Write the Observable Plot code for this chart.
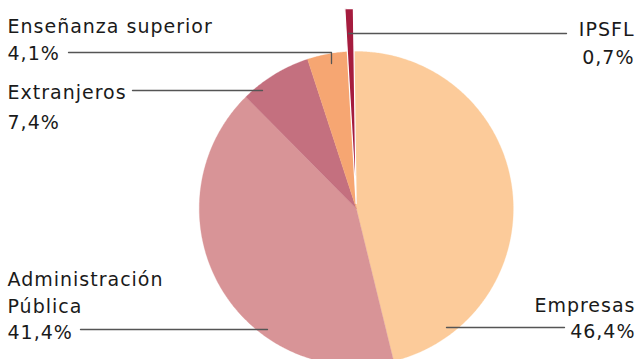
<!DOCTYPE html>
<html><head><meta charset="utf-8">
<script src="https://cdn.jsdelivr.net/npm/d3@7"></script>
<script src="https://cdn.jsdelivr.net/npm/@observablehq/plot@0.6"></script>
<style>html,body{margin:0;padding:0;background:#fff} svg{display:block}</style>
</head><body><div id="chart"></div>
<script>
// ---- data ----
const categories = ["Empresas", "Administración Pública", "Extranjeros", "Enseñanza superior", "IPSFL"];
const shares = [46.4, 41.4, 7.4, 4.1, 0.7];
const shareLabels = ["46,4%", "41,4%", "7,4%", "4,1%", "0,7%"];
const colors = ["#FCCB9A", "#D89497", "#C4707F", "#F6A672", "#A51C3E"];

// ---- layout ----
const W = 639, H = 359, CX = 355.8, CY = 208, R = 157, ROT = -0.8;
const explodeCat = "IPSFL", explodeDist = 5, explodeR = 195;
const FONT = "DejaVu Sans";

const total = d3.sum(shares);
let acc = 0;
const pts = [];
categories.forEach((c, i) => {
  const a0 = acc / total * 360 + ROT; acc += shares[i];
  const a1 = acc / total * 360 + ROT;
  const ex = c === explodeCat;
  const dist = ex ? explodeDist : 0, r = ex ? explodeR : R;
  const mid = (a0 + a1) / 2 * Math.PI / 180;
  const ox = CX + dist * Math.sin(mid), oy = CY - dist * Math.cos(mid);
  pts.push({c, x: ox, y: oy});
  const n = Math.max(4, Math.ceil((a1 - a0) / 0.5));
  for (let k = 0; k <= n; k++) {
    const a = (a0 + (a1 - a0) * k / n) * Math.PI / 180;
    pts.push({c, x: ox + r * Math.sin(a), y: oy - r * Math.cos(a)});
  }
});

// annotation layout (pixels)
const leaders = [
  {id: "Enseñanza", pts: [[68, 52], [331, 52], [331, 63]]},
  {id: "Extranjeros", pts: [[132, 90], [262, 90]]},
  {id: "IPSFL", pts: [[348, 33], [566, 33]]},
  {id: "Admin", pts: [[80, 329], [267, 329]]},
  {id: "Empresas", pts: [[446, 327], [564, 327]]}
];
const leaderPts = leaders.flatMap(l => l.pts.map(([x, y]) => ({id: l.id, x, y})));

const texts = [
  {t: "Enseñanza superior", x: 7, y: 32, a: "start"},
  {t: shareLabels[3], x: 7, y: 59, a: "start"},
  {t: "Extranjeros", x: 7, y: 98, a: "start"},
  {t: shareLabels[2], x: 7, y: 128, a: "start"},
  {t: "IPSFL", x: 634, y: 35, a: "end"},
  {t: shareLabels[4], x: 634, y: 63, a: "end"},
  {t: "Administración", x: 7, y: 285, a: "start"},
  {t: "Pública", x: 7, y: 312, a: "start"},
  {t: shareLabels[1], x: 7, y: 338, a: "start"},
  {t: "Empresas", x: 635, y: 311, a: "end"},
  {t: shareLabels[0], x: 635, y: 337, a: "end"}
];

const textOpts = {x: "x", y: "y", text: "t", fill: "#1a1a1a", fontSize: 19, fontFamily: FONT, lineAnchor: "bottom"};

const chart = Plot.plot({
  width: W, height: H, margin: 0,
  x: {domain: [0, W], range: [0, W], axis: null},
  y: {domain: [0, H], range: [0, H], axis: null},
  color: {domain: categories, range: colors},
  style: {fontFamily: FONT, background: "#fff", letterSpacing: "1px"},
  marks: [
    Plot.line(pts.filter(d => d.c !== explodeCat), {x: "x", y: "y", z: "c", fill: "c", stroke: "c", strokeWidth: 0.3, curve: "linear-closed"}),
    Plot.line(pts.filter(d => d.c === explodeCat), {x: "x", y: "y", z: "c", fill: "c", stroke: "white", strokeWidth: 1.2, curve: "linear-closed"}),
    Plot.line(leaderPts, {x: "x", y: "y", z: "id", stroke: "#555", strokeWidth: 1.3}),
    Plot.text(texts.filter(d => d.a === "start"), {...textOpts, textAnchor: "start"}),
    Plot.text(texts.filter(d => d.a === "end"), {...textOpts, textAnchor: "end"})
  ]
});
document.getElementById("chart").appendChild(chart);
</script>
</body></html>
